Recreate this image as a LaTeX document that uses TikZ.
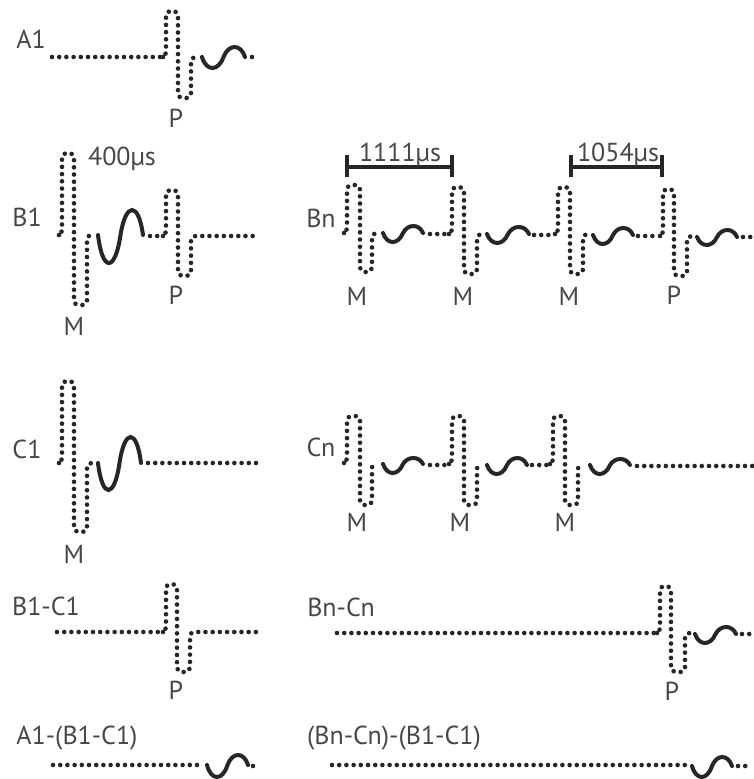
\documentclass[tikz,border=0pt]{standalone}
\usepackage{fontspec}
\setmainfont{PT Sans}
\newcommand{\spk}[7]{% x1 x2 x3 base top bot xend
  \draw[dotline,rounded corners=4.5pt] (#1-3,#4) -- (#1,#4) -- (#1,#5) -- (#2,#5) -- (#2,#6) -- (#3,#6) -- (#3,#4) -- (#7,#4);}
\newcommand{\wav}[5]{% x0 x1 base dip peak
  \draw[waveline] (#1,#3) .. controls ({#1+.1*(#2-#1)},{#3+(#4-#3)/.75}) and ({#1+.38*(#2-#1)},{#3+(#4-#3)/.75}) .. ({#1+.5*(#2-#1)},#3)
    .. controls ({#1+.62*(#2-#1)},{#3+(#5-#3)/.75}) and ({#1+.9*(#2-#1)},{#3+(#5-#3)/.75}) .. (#2,#3);}
\tikzset{
  x=1pt,y=-1pt,
  dotline/.style={line width=4.6pt,line cap=round,dash pattern=on 0pt off 7.2pt,draw=black!85},
  waveline/.style={line width=4pt,line cap=round,draw=black!85},
  lab/.style={font=\fontsize{26}{28}\selectfont,text=black!72,inner sep=0pt},
  bar/.style={line width=3.6pt,draw=black!85},
}
\begin{document}
\begin{tikzpicture}
\useasboundingbox[fill=white] (0,0) rectangle (754,779);
% A1
\node[lab] (a1) at (31,39) {A1};
\draw[dotline] (52,57) -- (160,57);
\spk{166}{178}{191}{57}{11}{98}{196}
\wav{202}{245}{57}{68}{47}
\draw[dotline] (252,57) -- (256,57);
\node[lab] (a1p) at (176,118) {P};
% B1
\node[lab] (b1) at (27,217) {B1};
\spk{62}{74}{87}{235}{153}{305}{92}
\wav{98}{143}{235}{263}{210}
\draw[dotline] (150,236) -- (161,236);
\spk{166}{178}{191}{236}{190}{276}{256}
\node[lab] (b1t) at (122,159) {400µs};
\node[lab] (b1m) at (74,326) {M};
\node[lab] (b1p) at (176,295) {P};
% Bn
\node[lab] (bn) at (321,218) {Bn};
\spk{347}{360}{372}{233}{185}{272}{377}
\wav{383}{423}{233}{242}{226}
\draw[dotline] (430,234) -- (446,234);
\spk{452}{464}{477}{234}{187}{274}{482}
\wav{487}{529}{234}{243}{227}
\draw[dotline] (534,235) -- (552,235);
\spk{558}{570}{583}{234}{187}{274}{588}
\wav{593}{633}{235}{244}{228}
\draw[dotline] (638,236) -- (657,236);
\spk{663}{674}{687}{236}{189}{276}{692}
\wav{697}{737}{237}{245}{230}
\draw[dotline] (743,237) -- (753,237);
\node[lab] (bm1) at (357,296) {M};
\node[lab] (bm2) at (463,296) {M};
\node[lab] (bm3) at (569,296) {M};
\node[lab] (bp) at (674,295) {P};
% bars
\coordinate (s1) at (347,167);
\coordinate (e1) at (452,167);
\coordinate (s2) at (571,167);
\coordinate (e2) at (662,167);
\draw[bar] (s1) -- (e1);
\draw[bar] ([yshift=12pt]s1) -- ([yshift=-10pt]s1);
\draw[bar] ([yshift=12pt]e1) -- ([yshift=-10pt]e1);
\draw[bar] (s2) -- (e2);
\draw[bar] ([yshift=12pt]s2) -- ([yshift=-10pt]s2);
\draw[bar] ([yshift=12pt]e2) -- ([yshift=-10pt]e2);
\node[lab] (t1) at (400,155) {1111µs};
\node[lab] (t2) at (618,155) {1054µs};
% C1
\node[lab] (c1) at (27,449) {C1};
\spk{62}{74}{87}{463}{381}{532}{92}
\wav{98}{141}{463}{490}{437}
\draw[dotline] (148,463) -- (258,463);
\node[lab] (c1m) at (74,554) {M};
% Cn
\node[lab] (cn) at (321,447) {Cn};
\spk{347}{360}{372}{463}{416}{505}{377}
\wav{383}{423}{464}{473}{458}
\draw[dotline] (430,465) -- (446,465);
\spk{452}{464}{477}{464}{416}{505}{482}
\wav{487}{527}{465}{474}{458}
\draw[dotline] (532,465) -- (547,465);
\spk{553}{565}{578}{464}{416}{505}{583}
\wav{590}{630}{465}{474}{459}
\draw[dotline] (637,466) -- (753,466);
\node[lab] (cm1) at (357,522) {M};
\node[lab] (cm2) at (460,522) {M};
\node[lab] (cm3) at (565,522) {M};
% B1-C1
\node[lab] (bc) at (46,606) {B1-C1};
\draw[dotline] (57,632) -- (160,632);
\spk{166}{177}{190}{632}{584}{672}{262}
\node[lab] (bcp) at (176,690) {P};
% Bn-Cn
\node[lab] (bncn) at (341,607) {Bn-Cn};
\draw[dotline] (337,633) -- (654,633);
\spk{660}{671}{685}{633}{586}{672}{690}
\wav{695}{736}{634}{643}{627}
\draw[dotline] (742,634) -- (751,634);
\node[lab] (bnp) at (672,691) {P};
% A1-(B1-C1)
\node[lab] (d1) at (77,738) {A1-(B1-C1)};
\draw[dotline] (53,765) -- (202,765);
\wav{207}{248}{765}{777}{755}
\draw[dotline] (253,766) -- (258,766);
% (Bn-Cn)-(B1-C1)
\node[lab] (d2) at (394,738) {(Bn-Cn)-(B1-C1)};
\draw[dotline] (332,765) -- (687,765);
\wav{692}{732}{766}{777}{757}
\draw[dotline] (738,766) -- (751,766);
\end{tikzpicture}
\end{document}
